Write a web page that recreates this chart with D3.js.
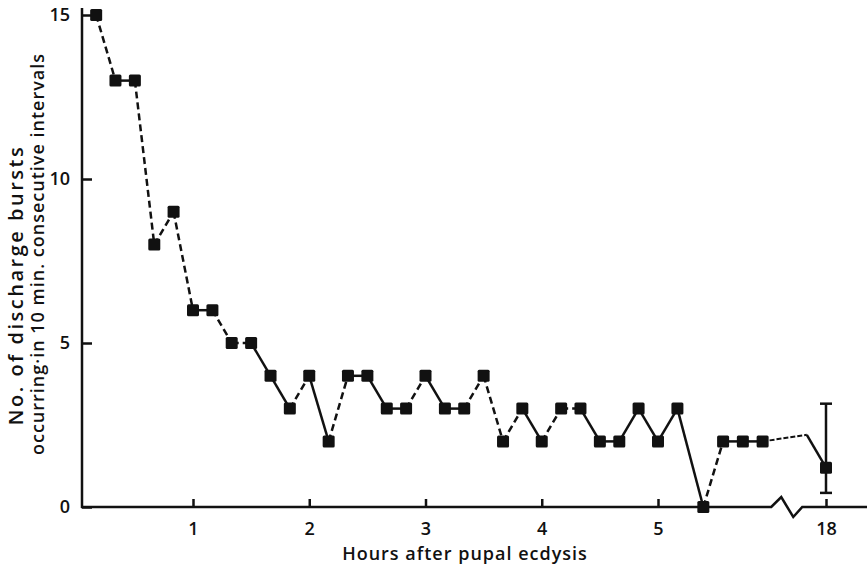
<!DOCTYPE html>
<html lang="en">
<head>
    <meta charset="UTF-8">
    <title>Discharge bursts after pupal ecdysis</title>
    <script src="https://d3js.org/d3.v7.min.js"></script>
    <style>
        body { margin: 0; background: #fff; }
        text { font-family: "Open Sans", sans-serif; fill: #111; font-weight: 600; }
    </style>
</head>
<body>
<script>
// hours after pupal ecdysis, one count per 10 min interval
const hours = [0.167, 0.333, 0.5, 0.667, 0.833, 1.0, 1.167, 1.333, 1.5, 1.667,
    1.833, 2.0, 2.167, 2.333, 2.5, 2.667, 2.833, 3.0, 3.167, 3.333,
    3.5, 3.667, 3.833, 4.0, 4.167, 4.333, 4.5, 4.667, 4.833, 5.0,
    5.167, 5.39, 5.56, 5.73, 5.9];
const bursts = [15, 13, 13, 8, 9, 6, 6, 5, 5, 4,
    3, 4, 2, 4, 4, 3, 3, 4, 3, 3,
    4, 2, 3, 2, 3, 3, 2, 2, 3, 2,
    3, 0, 2, 2, 2];
// dashed (1) or solid (0) stroke for each joining segment
const dashed = [1, 0, 1, 1, 1, 0, 1, 1, 0, 0, 1, 0, 1, 0, 0, 0, 1, 0, 0, 1,
    1, 1, 0, 1, 1, 0, 0, 0, 0, 0, 0, 1, 0, 0];

// late reading at 18 h with its range
const lateHour = 18;
const lateMean = 1.2;
const lateLow = 0.43;
const lateHigh = 3.15;
const bendPoint = [17.6, 2.2];

const xTicks = [1, 2, 3, 4, 5, 18];
const yTicks = [0, 5, 10, 15];

const width = 867, height = 571;

const svg = d3.select("body").append("svg")
    .attr("width", width)
    .attr("height", height);

// axis is broken between 6 h and 17.5 h
const x = d3.scaleLinear()
    .domain([0, 6, 17.5, 18])
    .range([76.75, 774.25, 802, 826]);
const y = d3.scaleLinear()
    .domain([0, 15])
    .range([507, 15]);

const axisX = 82;
const baseY = y(0);

// y axis
svg.append("line")
    .attr("x1", axisX).attr("x2", axisX)
    .attr("y1", baseY + 1).attr("y2", 8)
    .attr("stroke", "#111").attr("stroke-width", 2.5);

const gy = svg.append("g")
    .attr("transform", `translate(${axisX},0)`)
    .call(d3.axisLeft(y).tickValues(yTicks).tickSizeInner(-10).tickSizeOuter(0).tickPadding(12));
gy.select(".domain").remove();
gy.selectAll(".tick line").attr("stroke", "#111").attr("stroke-width", 2.5);
gy.selectAll(".tick text").style("font-size", "18px").style("font-family", "Open Sans");

// x axis with break
const brk = x(6);
svg.append("path")
    .attr("d", `M${axisX - 1},${baseY} L${brk - 3},${baseY} L${brk + 7},${baseY - 10} `
        + `L${brk + 19},${baseY + 10} L${brk + 28},${baseY} L${width},${baseY}`)
    .attr("fill", "none")
    .attr("stroke", "#111").attr("stroke-width", 2.5);

const gx = svg.append("g")
    .attr("transform", `translate(0,${baseY})`)
    .call(d3.axisBottom(x).tickValues(xTicks).tickSizeInner(-8).tickSizeOuter(0).tickPadding(15)
        .tickFormat(d3.format("d")));
gx.select(".domain").remove();
gx.selectAll(".tick line").attr("stroke", "#111").attr("stroke-width", 2.5);
gx.selectAll(".tick text").style("font-size", "18px").style("font-family", "Open Sans");

// axis titles
svg.append("text")
    .attr("x", 465).attr("y", 560)
    .attr("text-anchor", "middle")
    .style("font-size", "18px")
    .style("letter-spacing", "1px")
    .text("Hours after pupal ecdysis");

svg.append("text")
    .attr("transform", "translate(23,285) rotate(-90)")
    .attr("text-anchor", "middle")
    .style("font-size", "20px")
    .style("letter-spacing", "2.5px")
    .text("No. of discharge bursts");

svg.append("text")
    .attr("transform", "translate(44,254) rotate(-90)")
    .attr("text-anchor", "middle")
    .style("font-size", "18px")
    .style("letter-spacing", "1px")
    .text("occurring\u00b7in 10 min. consecutive intervals");

// connecting segments
const pts = hours.map((h, i) => [h, bursts[i]]);
svg.append("g").selectAll("line")
    .data(d3.pairs(pts))
    .join("line")
    .attr("x1", d => x(d[0][0])).attr("y1", d => y(d[0][1]))
    .attr("x2", d => x(d[1][0])).attr("y2", d => y(d[1][1]))
    .attr("stroke", "#111").attr("stroke-width", 2.5)
    .attr("stroke-dasharray", (d, i) => dashed[i] ? "7,4" : null);

// gap to the 18 h reading
const last = pts[pts.length - 1];
svg.append("line")
    .attr("x1", x(last[0])).attr("y1", y(last[1]))
    .attr("x2", x(bendPoint[0])).attr("y2", y(bendPoint[1]))
    .attr("stroke", "#111").attr("stroke-width", 2)
    .attr("stroke-dasharray", "5,2");
svg.append("line")
    .attr("x1", x(bendPoint[0])).attr("y1", y(bendPoint[1]))
    .attr("x2", x(lateHour)).attr("y2", y(lateMean))
    .attr("stroke", "#111").attr("stroke-width", 2.5);

// range bar
const eb = svg.append("g").attr("stroke", "#111").attr("stroke-width", 2.5);
eb.append("line")
    .attr("x1", x(lateHour)).attr("x2", x(lateHour))
    .attr("y1", y(lateHigh)).attr("y2", y(lateLow));
[lateHigh, lateLow].forEach(v => {
    eb.append("line")
        .attr("x1", x(lateHour) - 6).attr("x2", x(lateHour) + 6)
        .attr("y1", y(v)).attr("y2", y(v));
});

// markers
const s = 12;
svg.append("g").selectAll("rect")
    .data(pts.concat([[lateHour, lateMean]]))
    .join("rect")
    .attr("x", d => x(d[0]) - s / 2)
    .attr("y", d => y(d[1]) - s / 2)
    .attr("width", s).attr("height", s)
    .attr("rx", 1.5)
    .attr("fill", "#111");
</script>
</body>
</html>
